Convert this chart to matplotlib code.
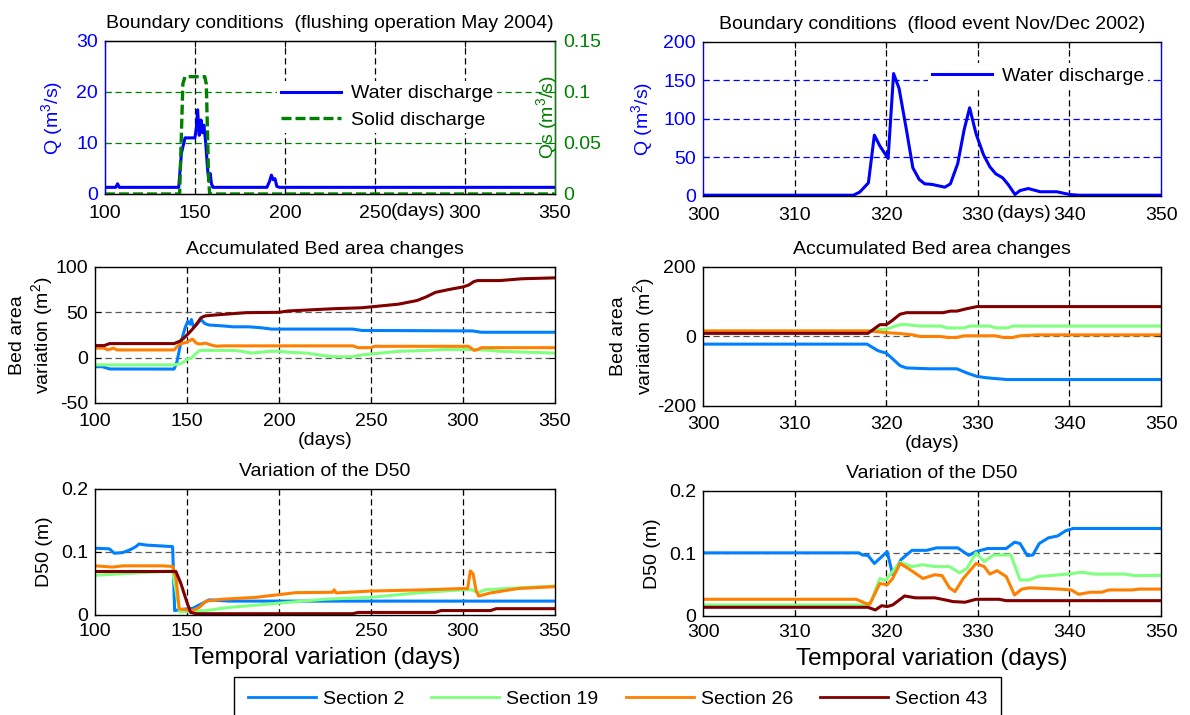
import matplotlib
matplotlib.use('Agg')
import matplotlib.pyplot as plt
from matplotlib.lines import Line2D

#------------------------------- DATA -------------------------------------------
# Boundary conditions, flushing operation May 2004
q_flush_days = [100, 106, 107, 108, 109, 141, 142.5, 144.5, 150, 150.8, 151.5, 152.4, 153.4,
                154.2, 155, 156, 157, 157.8, 158.5, 159.2, 160, 161, 190, 191.5, 192.5,
                193.5, 194.5, 195.5, 197, 350]
q_flush = [1.3, 1.3, 2.0, 1.3, 1.3, 1.3, 8, 11, 11, 13, 16.5, 11.5, 14.5,
           12, 13.5, 10, 5, 2.5, 4, 2, 1.3, 1.3, 1.3, 2.5, 3.7,
           2.8, 3, 1.5, 1.3, 1.3]
qs_flush_days = [100, 141.5, 142.5, 143.3, 144.5, 155.5, 156.3, 157, 157.6, 158.2, 350]
qs_flush = [0, 0, 0.06, 0.108, 0.115, 0.115, 0.108, 0.06, 0.015, 0, 0]

# Boundary conditions, flood event Nov/Dec 2002
q_flood_days = [300, 316.4, 317.1, 318.05, 318.7, 319.3, 320.2, 320.8, 321.4, 322.2, 322.9,
                323.6, 324.2, 325.0, 326.4, 327.0, 327.8, 328.5, 329.1, 329.8, 330.6, 331.3,
                331.95, 332.7, 333.3, 334.05, 334.6, 335.5, 336.8, 338.6, 340, 341, 350]
q_flood = [1, 1, 5, 17, 79, 65, 48.7, 159, 139.6, 86, 36.6,
           21.4, 15.8, 15, 11.4, 15.8, 42, 86, 114.5, 80.8, 54, 38,
           28.8, 23.6, 15, 2, 7, 9.7, 5.5, 5.5, 2, 1, 1]

sections = ['Section 2', 'Section 19', 'Section 26', 'Section 43']
sec_colors = ['#0080ff', '#80ff80', '#ff8000', '#800000']

# Accumulated bed area changes (m2), flushing
bed_flush_days = [
    [100, 104, 108, 143, 144.5, 146.7, 149, 150.4, 151.6, 152.4, 153.3, 155, 157.6, 159.8, 162,
     169.4, 175, 183.7, 190, 196, 240, 245, 305, 310, 350],
    [100, 143, 146, 148, 150, 153, 155, 157, 175, 180, 185, 195, 200, 205, 215, 225, 230, 240,
     245, 255, 265, 280, 290, 305, 315, 320, 335, 350],
    [100, 105, 107, 110, 112, 143, 146, 150, 153, 155, 157, 160, 163, 166, 170, 240, 243, 250,
     252, 303, 306, 308, 310, 350],
    [100, 105, 108, 143, 146, 148, 151, 154.3, 157.6, 159.8, 165, 182, 200, 205, 210, 230, 245,
     250, 255, 265, 270, 275, 280, 285, 292, 300, 303, 306, 308, 320, 332, 350]]
bed_flush = [
    [-10, -10, -12.5, -12.6, -5, 17, 33, 40, 37, 42, 35, 36, 42, 37.5, 36,
     35, 34, 34, 33, 31.5, 31.5, 30, 29.5, 28, 28],
    [-8, -8, -7, -5, -2, 0.4, 5, 8, 8, 7, 5, 7, 7, 6, 5, 2, 1, 1,
     3, 5, 7, 8, 9, 9, 8, 7, 6, 5],
    [10.5, 10.5, 8.5, 10.5, 8.5, 8.5, 15, 17, 20.5, 16, 15, 16, 14, 12.6, 13, 13, 11, 11,
     12.5, 12.5, 8, 9, 11, 11],
    [13.3, 13.3, 15.5, 15.5, 18, 21, 27, 34.4, 44, 46, 47, 49.6, 50, 51.5, 52, 54, 55,
     56, 57, 59, 61, 63, 67, 72, 75, 78, 80, 84, 85, 85, 87, 88]]

# Accumulated bed area changes (m2), flood
bed_flood_days = [
    [300, 317.9, 319.1, 320, 320.6, 321.5, 322.2, 324.8, 327.7, 328.8, 329.9, 331, 333.2, 350],
    [300, 318, 319, 320, 321.5, 322.2, 323.7, 325.9, 326.7, 328.5, 329.1, 331.3, 332, 333.2,
     333.8, 350],
    [300, 318, 320, 321.5, 322.9, 323.7, 325.9, 326.7, 327.7, 328.5, 331.9, 332.8, 333.8, 334.6,
     336.4, 350],
    [300, 318, 319.3, 320, 320.6, 321.5, 322.2, 326.2, 327, 327.7, 328.8, 329.9, 350]]
bed_flood = [
    [-22, -22, -41, -48, -62, -84, -90.6, -93, -93, -105, -115, -119, -124, -124],
    [15, 15, 20, 21, 34, 34, 30, 30, 24.6, 24.6, 30, 30, 24.6, 24.6, 30, 30],
    [16, 16, 11, 8.5, 4.6, 0, 0, -3, -3, 2, 2, -3, -3, 2, 4.6, 4.6],
    [9, 9, 34, 34, 45, 64, 68.5, 68.5, 73, 73, 80, 86, 86]]

# D50 (m), flushing
d50_flush_days = [
    [100, 107.8, 110.5, 115, 118.7, 122, 124, 127.7, 142.2, 143.3, 147.7, 153.1, 158.5, 162.1,
     173, 350],
    [100, 118.7, 142.2, 144.5, 146, 160.3, 173, 209, 225, 250, 275, 300, 305, 308, 312, 330, 350],
    [100, 109.6, 115, 136.8, 142.2, 144, 145.8, 153, 156.7, 160.3, 169.4, 187.5, 209, 229, 230,
     231, 250, 280, 300, 302.5, 304, 305.5, 307, 308.5, 315, 330, 350],
    [100, 144, 146.7, 150, 152, 155, 240, 243, 285, 288, 315, 318, 350]]
d50_flush = [
    [0.106, 0.105, 0.098, 0.099, 0.103, 0.108, 0.1127, 0.111, 0.1085, 0.007, 0.009, 0.0106,
     0.0185, 0.024, 0.022, 0.022],
    [0.063, 0.066, 0.07, 0.03, 0.005, 0.007, 0.012, 0.021, 0.025, 0.028, 0.035, 0.04, 0.04,
     0.035, 0.04, 0.043, 0.046],
    [0.078, 0.076, 0.078, 0.078, 0.077, 0.06, 0.0095, 0.007, 0.012, 0.022, 0.025, 0.028, 0.0354,
     0.036, 0.04, 0.035, 0.038, 0.04, 0.042, 0.042, 0.07, 0.065, 0.04, 0.03, 0.035, 0.042, 0.045],
    [0.069, 0.069, 0.05, 0.02, 0.004, 0.002, 0.002, 0.004, 0.004, 0.007, 0.007, 0.01, 0.01]]

# D50 (m), flood
d50_flood_days = [
    [300, 317, 317.4, 318, 318.7, 320.1, 320.7, 321.6, 322.8, 324.4, 325.5, 327.8, 329, 329.8,
     331.1, 333.1, 334, 334.6, 335.4, 336, 336.7, 337.7, 338.7, 339.6, 340.4, 350],
    [300, 318, 318.4, 319.3, 319.9, 321.5, 322.8, 324, 325.3, 326.9, 328, 328.8, 329.8, 330.7,
     331.7, 333.6, 334.6, 335.6, 336.5, 339.8, 341.4, 342.7, 346, 347.2, 350],
    [300, 316.7, 317.8, 318.2, 319.3, 320.1, 320.7, 321.5, 322.4, 324, 325.3, 326.1, 326.9, 327.5,
     328.4, 329.8, 330.7, 331.3, 332.1, 333.1, 334, 334.8, 335.6, 338.9, 340.2, 341, 342.3,
     343.5, 344.3, 346.8, 347.6, 350],
    [300, 318, 318.8, 319.5, 320.1, 320.7, 322, 323.2, 325.3, 326.1, 327.3, 328.6, 329.8, 332.3,
     333.1, 350]]
d50_flood = [
    [0.101, 0.101, 0.0976, 0.097, 0.084, 0.103, 0.066, 0.09, 0.105, 0.105, 0.109, 0.109, 0.097,
     0.103, 0.108, 0.108, 0.118, 0.116, 0.0965, 0.0976, 0.116, 0.125, 0.128, 0.1365, 0.14, 0.14],
    [0.0176, 0.0176, 0.0256, 0.06, 0.0565, 0.086, 0.079, 0.082, 0.079, 0.079, 0.069, 0.076, 0.101,
     0.087, 0.0976, 0.0976, 0.0576, 0.0576, 0.063, 0.067, 0.07, 0.067, 0.067, 0.0645, 0.065],
    [0.0267, 0.0267, 0.02, 0.0187, 0.052, 0.05, 0.06, 0.084, 0.076, 0.06, 0.066, 0.0645, 0.045,
     0.039, 0.06, 0.084, 0.079, 0.067, 0.0725, 0.063, 0.0336, 0.043, 0.045, 0.043, 0.0416,
     0.0347, 0.038, 0.038, 0.0416, 0.0416, 0.043, 0.043],
    [0.0139, 0.0139, 0.0096, 0.0165, 0.015, 0.0176, 0.032, 0.029, 0.029, 0.0267, 0.023, 0.022,
     0.0267, 0.0267, 0.0245, 0.0245]]

#------------------------------- STYLE ------------------------------------------
plt.rcParams['font.family'] = ['Liberation Sans', 'DejaVu Sans']
plt.rcParams['mathtext.fontset'] = 'custom'
plt.rcParams['mathtext.rm'] = 'Liberation Sans'
plt.rcParams['mathtext.default'] = 'regular'
plt.rcParams['axes.unicode_minus'] = False

FS_TITLE = 14
FS_TICK = 14
FS_LABEL = 14
TITLE_PAD = 9.5
DASH = (0, (5, 3))
BLUE = '#0000ff'
GREEN = '#008000'

fig = plt.figure(figsize=(11.9, 7.15), dpi=100)


def box_axes(rect, xlim, ylim, xticks, yticks, xpad=7):
    ax = fig.add_axes(rect)
    ax.set_xlim(xlim)
    ax.set_ylim(ylim)
    ax.set_xticks(xticks)
    ax.set_yticks(yticks)
    ax.tick_params(direction='in', top=True, right=True, length=4, labelsize=FS_TICK, pad=5)
    ax.tick_params(axis='x', pad=xpad)
    for s in ax.spines.values():
        s.set_linewidth(1.0)
    return ax


def vgrid(ax, ticks):
    for t in ticks:
        ax.axvline(t, color='k', lw=0.9, ls=DASH, zorder=0.5)


def hgrid(ax, ticks, color):
    for t in ticks:
        ax.axhline(t, color=color, lw=0.9, ls=DASH, zorder=0.5)


#------------------------------- TOP: BOUNDARY CONDITIONS -----------------------
ax = box_axes([0.0882, 0.7287, 0.378, 0.214], (100, 350), (0, 30),
              range(100, 351, 50), [0, 10, 20, 30], xpad=8)
ax.tick_params(axis='y', colors=BLUE, right=False)
ax.tick_params(axis='x', colors='k')
ax.spines['left'].set_color(BLUE)
vgrid(ax, [150, 200, 250, 300])
ax.plot(q_flush_days, q_flush, color=BLUE, lw=2.2, label='Water discharge')
ax.set_ylabel('Q (m$^3$/s)', color=BLUE, fontsize=FS_LABEL, labelpad=8)
ax.set_title('Boundary conditions  (flushing operation May 2004)', fontsize=FS_TITLE, pad=TITLE_PAD)
ax.text(274, -0.06, '(days)', transform=ax.get_xaxis_transform(), ha='center', va='top',
        fontsize=FS_TICK)
ax2 = ax.twinx()
ax2.set_ylim(0, 0.15)
ax2.set_yticks([0, 0.05, 0.1, 0.15])
ax2.set_yticklabels(['0', '0.05', '0.1', '0.15'])
ax2.tick_params(axis='y', direction='in', colors=GREEN, length=4, labelsize=FS_TICK, pad=6)
ax2.spines['right'].set_color(GREEN)
ax2.spines['left'].set_color(BLUE)
hgrid(ax2, [0.05, 0.1], GREEN)
ax2.plot(qs_flush_days, qs_flush, color=GREEN, lw=2.4, ls=(0, (3, 1.2)), label='Solid discharge')
ax2.set_ylabel('Qs (m$^3$/s)', color=GREEN, fontsize=FS_LABEL)
ax2.yaxis.set_label_coords(0.955, 0.5)
h1, l1 = ax.get_legend_handles_labels()
h2, l2 = ax2.get_legend_handles_labels()
leg = ax2.legend(h1 + h2, l1 + l2, loc='center left', bbox_to_anchor=(0.36, 0.57),
                 fontsize=FS_LABEL, frameon=True, edgecolor='none', fancybox=False, framealpha=1,
                 handlelength=3.1, labelspacing=0.45, borderpad=0.2, handletextpad=0.5)

ax = box_axes([0.5908, 0.7259, 0.3849, 0.2154], (300, 350), (0, 200),
              range(300, 351, 10), [0, 50, 100, 150, 200], xpad=8)
ax.tick_params(axis='y', colors=BLUE)
ax.spines['left'].set_color(BLUE)
ax.spines['right'].set_color(BLUE)
vgrid(ax, [310, 320, 330, 340])
hgrid(ax, [50, 100, 150], BLUE)
ax.plot(q_flood_days, q_flood, color=BLUE, lw=2.2, label='Water discharge')
ax.set_ylabel('Q (m$^3$/s)', color=BLUE, fontsize=FS_LABEL, labelpad=6)
ax.set_title('Boundary conditions  (flood event Nov/Dec 2002)', fontsize=FS_TITLE, pad=TITLE_PAD)
ax.text(335, -0.06, '(days)', transform=ax.get_xaxis_transform(), ha='center', va='top',
        fontsize=FS_TICK)
ax.legend(loc='center left', bbox_to_anchor=(0.47, 0.78), fontsize=FS_LABEL, frameon=True,
          edgecolor='none', fancybox=False, framealpha=1, handlelength=3.1, borderpad=0.2,
          handletextpad=0.5)

#------------------------------- MIDDLE: BED AREA -------------------------------
ax = box_axes([0.0798, 0.4364, 0.3866, 0.1902], (100, 350), (-50, 100),
              range(100, 351, 50), [-50, 0, 50, 100])
vgrid(ax, [150, 200, 250, 300])
hgrid(ax, [0, 50], '0.35')
for d, v, c in zip(bed_flush_days, bed_flush, sec_colors):
    ax.plot(d, v, color=c, lw=2.2)
ax.set_title('Accumulated Bed area changes', fontsize=FS_TITLE, pad=TITLE_PAD)
ax.set_ylabel('Bed area\nvariation (m$^2$)', fontsize=FS_LABEL, labelpad=0)
ax.set_xlabel('(days)', fontsize=FS_TICK, labelpad=2)

ax = box_axes([0.5908, 0.4322, 0.3849, 0.1944], (300, 350), (-200, 200),
              range(300, 351, 10), [-200, 0, 200])
vgrid(ax, [310, 320, 330, 340])
hgrid(ax, [0], '0.35')
for d, v, c in zip(bed_flood_days, bed_flood, sec_colors):
    ax.plot(d, v, color=c, lw=2.2)
ax.set_title('Accumulated Bed area changes', fontsize=FS_TITLE, pad=TITLE_PAD)
ax.set_ylabel('Bed area\nvariation (m$^2$)', fontsize=FS_LABEL, labelpad=0)
ax.set_xlabel('(days)', fontsize=FS_TICK, labelpad=2)

#------------------------------- BOTTOM: D50 ------------------------------------
ax = box_axes([0.0798, 0.1399, 0.3866, 0.1762], (100, 350), (0, 0.2),
              range(100, 351, 50), [0, 0.1, 0.2], xpad=6)
ax.set_yticklabels(['0', '0.1', '0.2'])
vgrid(ax, [150, 200, 250, 300])
hgrid(ax, [0.1], '0.35')
for d, v, c in zip(d50_flush_days, d50_flush, sec_colors):
    ax.plot(d, v, color=c, lw=2.2)
ax.set_title('Variation of the D50', fontsize=FS_TITLE, pad=TITLE_PAD)
ax.set_ylabel('D50 (m)', fontsize=FS_LABEL, labelpad=6)
ax.set_xlabel('Temporal variation (days)', fontsize=17.5, labelpad=5)

ax = box_axes([0.5908, 0.1385, 0.3849, 0.1748], (300, 350), (0, 0.2),
              range(300, 351, 10), [0, 0.1, 0.2], xpad=6)
ax.set_yticklabels(['0', '0.1', '0.2'])
vgrid(ax, [310, 320, 330, 340])
hgrid(ax, [0.1], '0.35')
for d, v, c in zip(d50_flood_days, d50_flood, sec_colors):
    ax.plot(d, v, color=c, lw=2.2)
ax.set_title('Variation of the D50', fontsize=FS_TITLE, pad=TITLE_PAD)
ax.set_ylabel('D50 (m)', fontsize=FS_LABEL, labelpad=6)
ax.set_xlabel('Temporal variation (days)', fontsize=17.5, labelpad=5)

# shared legend for the sections
handles = [Line2D([], [], color=c, lw=2) for c in sec_colors]
fig.legend(handles, sections, ncol=4, loc='upper left', bbox_to_anchor=(234 / 1190, 1 - 677 / 715),
           borderaxespad=0, fontsize=14, frameon=True, fancybox=False, edgecolor='k',
           framealpha=1, handlelength=3.5, handletextpad=0.36, columnspacing=1.4, borderpad=0.7)

fig.savefig('out.png', dpi=100)
